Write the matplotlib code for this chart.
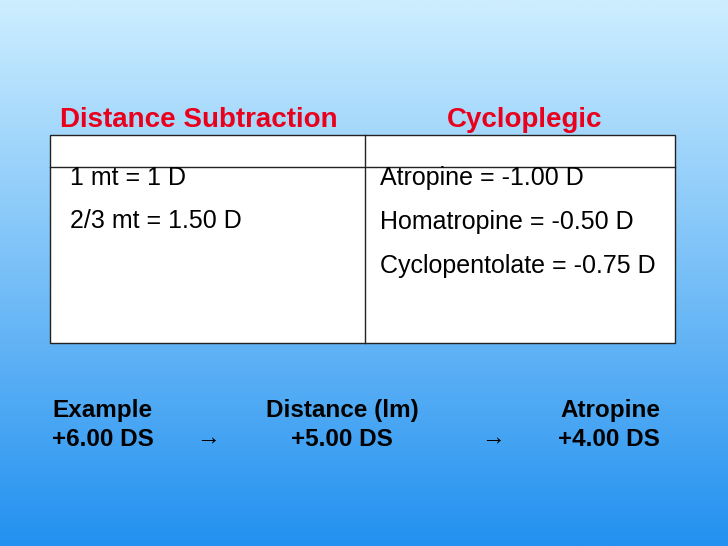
import numpy as np
import matplotlib.pyplot as plt
from matplotlib.patches import Rectangle

plt.rcParams['font.family'] = ['Liberation Sans', 'DejaVu Sans']

headers = ["Distance Subtraction", "Cycloplegic"]
left_lines = ["1 mt = 1 D", "2/3 mt = 1.50 D"]
right_lines = ["Atropine = -1.00 D", "Homatropine = -0.50 D", "Cyclopentolate = -0.75 D"]
steps_top = ["Example", "Distance (lm)", "Atropine"]
steps_bottom = ["+6.00 DS", "+5.00 DS", "+4.00 DS"]

fig = plt.figure(figsize=(7.28, 5.46), dpi=100)
ax = fig.add_axes([0, 0, 1, 1])
ax.set_xlim(0, 728)
ax.set_ylim(546, 0)
ax.axis('off')

# vertical gradient background
top = np.array([205, 238, 255]) / 255
bot = np.array([35, 145, 240]) / 255
t = np.linspace(0, 1, 256)[:, None]
grad = top * (1 - t) + bot * t
ax.imshow(grad[:, None, :], extent=[0, 728, 546, 0], aspect='auto', zorder=0)

# table
ax.add_patch(Rectangle((50, 135), 625, 208, facecolor='white', edgecolor='#222222', lw=1, zorder=1))
ax.plot([50, 675], [167, 167], color='#222222', lw=1, zorder=2)
ax.plot([365, 365], [135, 343], color='#222222', lw=1, zorder=2)

red = '#e8001c'
ax.text(60, 120, headers[0], color=red, fontsize=20, fontweight='bold', va='center', zorder=3)
ax.text(525, 120, headers[1], color=red, fontsize=20, fontweight='bold', va='center', ha='center', zorder=3)

for i, s in enumerate(left_lines):
    ax.text(70, 178 + i * 43, s, fontsize=18, va='center', zorder=3)
for i, s in enumerate(right_lines):
    ax.text(380, 178 + i * 44, s, fontsize=18, va='center', zorder=3)

# example row
xs = [52, 342, 660]
has = ['left', 'center', 'right']
for x, ha, a, b in zip(xs, has, steps_top, steps_bottom):
    ax.text(x, 411, a, fontsize=17.5, fontweight='bold', ha=ha, va='center')
    ax.text(x, 440, b, fontsize=17.5, fontweight='bold', ha=ha, va='center')
for x in [208, 493]:
    ax.text(x, 437, "\u2192", fontsize=17, fontweight='bold', ha='center', va='center')

fig.savefig("out.png", dpi=100)
